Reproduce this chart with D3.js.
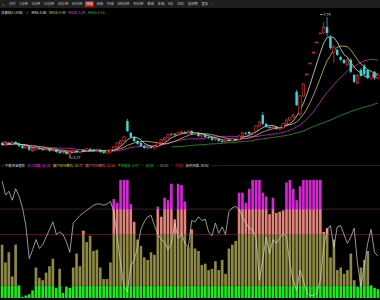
<!DOCTYPE html>
<html><head><meta charset="utf-8">
<script src="https://cdn.jsdelivr.net/npm/d3@7"></script>
<style>
body{margin:0;background:#000;overflow:hidden;}
svg{display:block;font-family:"Noto Sans CJK SC","Noto Sans",sans-serif;}
</style></head><body>
<div id="content"></div>
<script>
// ---- price data (daily candles) ----
const opens = [3.72,3.66,3.72,3.69,3.75,3.69,3.62,3.56,3.59,3.47,
  3.50,3.56,3.53,3.50,3.53,3.47,3.50,3.43,3.40,3.43,
  3.37,3.43,3.47,3.43,3.50,3.47,3.53,3.50,3.47,3.50,
  3.43,3.40,3.43,3.50,3.59,3.69,3.78,4.42,4.04,3.91,
  3.78,3.72,3.62,3.56,3.59,3.56,3.62,3.72,3.82,3.88,
  3.98,4.01,3.98,4.04,4.07,4.04,4.10,4.01,4.04,3.94,
  3.98,3.91,3.88,3.82,3.85,3.78,3.75,3.82,3.78,3.85,
  3.82,3.94,4.04,4.07,4.01,4.10,4.26,4.61,4.33,4.23,
  4.20,4.23,4.17,4.20,4.33,4.45,4.55,5.35,4.65,5.22,
  5.92,6.27,6.62,6.94,7.23,7.23,7.42,7.10,6.62,6.69,
  6.46,6.37,6.21,6.37,5.89,5.63,6.05,6.18,6.05,5.79,5.99,5.79];
const highs = [3.75,3.78,3.75,3.78,3.78,3.72,3.66,3.66,3.62,3.56,
  3.59,3.59,3.56,3.56,3.56,3.53,3.53,3.47,3.47,3.47,
  3.47,3.50,3.50,3.53,3.53,3.56,3.56,3.53,3.53,3.53,
  3.47,3.50,3.53,3.62,3.75,3.82,3.94,4.49,4.07,3.94,
  3.82,3.75,3.66,3.62,3.62,3.66,3.75,3.85,3.91,4.01,
  4.04,4.04,4.07,4.10,4.10,4.13,4.13,4.07,4.07,4.01,
  4.01,3.94,3.91,3.88,3.88,3.82,3.85,3.85,3.88,3.88,
  3.98,4.07,4.07,4.10,4.07,4.29,4.42,4.71,4.36,4.26,
  4.26,4.26,4.23,4.36,4.49,4.55,4.65,5.41,5.25,5.63,
  5.92,6.27,6.62,6.94,7.23,7.58,7.74,7.17,6.85,6.72,
  6.50,6.40,6.43,6.43,5.92,5.92,6.11,6.24,6.08,6.02,6.02,5.95];
const lows = [3.62,3.66,3.66,3.66,3.66,3.59,3.53,3.53,3.47,3.43,
  3.47,3.50,3.47,3.47,3.43,3.43,3.40,3.37,3.37,3.34,
  3.27,3.40,3.40,3.40,3.43,3.43,3.47,3.43,3.43,3.40,
  3.37,3.37,3.40,3.47,3.56,3.66,3.75,4.07,3.88,3.75,
  3.66,3.59,3.53,3.53,3.53,3.53,3.59,3.69,3.78,3.85,
  3.94,3.94,3.94,4.01,4.01,4.01,3.98,3.98,3.91,3.91,
  3.88,3.85,3.78,3.78,3.75,3.72,3.72,3.75,3.75,3.78,
  3.78,3.91,3.98,3.98,3.98,4.07,4.23,4.29,4.20,4.17,
  4.17,4.13,4.13,4.17,4.29,4.42,4.52,4.90,4.58,5.19,
  5.92,6.27,6.62,6.94,7.23,7.23,7.13,6.69,6.27,6.50,
  6.34,6.24,6.18,5.95,5.63,5.60,5.83,5.89,5.76,5.76,5.73,5.76];
const closes = [3.66,3.72,3.69,3.75,3.69,3.62,3.56,3.62,3.50,3.53,
  3.56,3.53,3.50,3.53,3.47,3.50,3.43,3.40,3.43,3.37,
  3.43,3.47,3.43,3.50,3.47,3.53,3.50,3.47,3.50,3.43,
  3.40,3.47,3.50,3.59,3.72,3.78,3.91,4.10,3.91,3.78,
  3.69,3.62,3.56,3.59,3.56,3.62,3.72,3.82,3.88,3.98,
  4.01,3.98,4.04,4.07,4.04,4.10,4.01,4.04,3.94,3.98,
  3.91,3.88,3.82,3.85,3.78,3.75,3.82,3.78,3.85,3.82,
  3.94,4.04,4.01,4.01,4.04,4.26,4.39,4.33,4.23,4.20,
  4.23,4.17,4.20,4.33,4.45,4.52,4.61,4.93,5.22,5.60,
  5.92,6.27,6.62,6.94,7.23,7.42,7.23,6.75,6.78,6.53,
  6.37,6.27,6.37,5.99,5.67,5.86,5.86,5.92,5.79,5.99,5.79,5.89];

// moving averages as shown on the chart
const ma5 = [3.66,3.69,3.69,3.70,3.70,3.69,3.66,3.65,3.60,3.57,
  3.56,3.55,3.52,3.53,3.52,3.50,3.48,3.46,3.45,3.43,
  3.41,3.42,3.43,3.44,3.46,3.48,3.48,3.49,3.49,3.48,
  3.46,3.45,3.46,3.48,3.54,3.61,3.70,3.82,3.89,3.90,
  3.88,3.82,3.71,3.65,3.61,3.59,3.61,3.66,3.72,3.80,
  3.88,3.93,3.98,4.01,4.03,4.05,4.05,4.05,4.03,4.01,
  3.98,3.95,3.91,3.89,3.85,3.82,3.80,3.80,3.80,3.80,
  3.84,3.89,3.93,3.96,4.01,4.07,4.14,4.21,4.25,4.28,
  4.28,4.23,4.21,4.22,4.28,4.33,4.42,4.57,4.75,4.98,
  5.26,5.59,5.93,6.27,6.60,6.90,7.09,7.11,7.08,6.94,
  6.73,6.54,6.46,6.30,6.13,6.03,5.95,5.86,5.82,5.88,5.87,5.88];
const ma10 = [3.66,3.66,3.67,3.67,3.69,3.67,3.66,3.66,3.64,3.63,
  3.62,3.60,3.59,3.56,3.54,3.53,3.52,3.49,3.49,3.47,
  3.46,3.45,3.45,3.44,3.44,3.45,3.45,3.46,3.47,3.47,
  3.47,3.47,3.47,3.48,3.51,3.54,3.58,3.64,3.68,3.72,
  3.75,3.76,3.77,3.77,3.75,3.74,3.72,3.69,3.69,3.70,
  3.74,3.77,3.82,3.87,3.91,3.96,3.99,4.01,4.02,4.02,
  4.01,4.00,3.98,3.96,3.93,3.90,3.88,3.85,3.84,3.83,
  3.83,3.85,3.86,3.88,3.91,3.96,4.01,4.07,4.11,4.14,
  4.17,4.19,4.21,4.24,4.28,4.30,4.33,4.39,4.49,4.63,
  4.80,5.01,5.25,5.51,5.79,6.08,6.34,6.52,6.68,6.77,
  6.81,6.81,6.79,6.69,6.54,6.38,6.24,6.16,6.06,6.01,5.95,5.91];
const ma20 = [3.75,3.74,3.72,3.70,3.69,3.67,3.66,3.65,3.64,3.62,
  3.61,3.60,3.59,3.58,3.57,3.57,3.56,3.55,3.55,3.55,
  3.54,3.53,3.52,3.50,3.49,3.49,3.48,3.47,3.47,3.47,
  3.46,3.46,3.46,3.46,3.47,3.49,3.51,3.55,3.57,3.59,
  3.60,3.61,3.62,3.62,3.63,3.63,3.65,3.66,3.68,3.71,
  3.74,3.77,3.79,3.82,3.83,3.85,3.85,3.85,3.85,3.86,
  3.87,3.89,3.90,3.91,3.92,3.93,3.93,3.93,3.93,3.92,
  3.92,3.92,3.92,3.92,3.92,3.92,3.94,3.96,3.97,3.99,
  4.00,4.01,4.03,4.06,4.09,4.13,4.17,4.23,4.29,4.38,
  4.48,4.59,4.72,4.87,5.03,5.19,5.33,5.45,5.58,5.70,
  5.80,5.91,6.02,6.10,6.16,6.23,6.29,6.34,6.37,6.39,6.38,6.36];
const ma60 = [null,null,null,null,null,null,null,null,null,null,
  null,null,null,null,null,null,null,null,null,null,
  null,null,null,null,null,null,null,null,null,null,
  null,null,null,null,null,null,null,null,null,null,
  null,null,null,null,null,null,null,null,null,null,
  3.59,3.60,3.60,3.61,3.62,3.63,3.64,3.65,3.66,3.66,
  3.67,3.68,3.69,3.69,3.70,3.71,3.72,3.72,3.73,3.74,
  3.75,3.76,3.77,3.78,3.80,3.82,3.83,3.85,3.86,3.88,
  3.89,3.91,3.93,3.94,3.96,3.98,4.01,4.04,4.07,4.10,
  4.15,4.20,4.24,4.28,4.33,4.36,4.41,4.45,4.50,4.55,
  4.60,4.64,4.68,4.72,4.76,4.79,4.83,4.86,4.89,4.92,4.96,4.99];

// ---- lower indicator ----
const holdBars = [42,28,36,17,42,10,1,2,3,6,
  24,16,14,20,25,31,8,23,4,9,
  8,24,35,25,53,44,49,37,38,24,
  15,15,28,78,75,93,93,93,74,60,
  46,41,32,30,36,34,72,64,79,77,
  90,62,90,89,76,40,54,39,37,26,
  27,22,23,29,22,30,19,39,42,45,
  83,83,75,86,93,93,93,83,80,66,
  79,67,68,69,91,93,86,77,88,93,
  93,93,93,93,93,52,55,32,46,22,
  24,19,22,35,14,9,24,30,37,10,8,7];
const hotLine = [92,81,84,77,86,80,71,57,31,38,
  46,39,42,48,54,60,50,52,50,44,
  36,59,62,65,67,69,71,73,74,74,
  73,74,76,68,48,27,9,5,25,30,
  40,54,60,64,65,57,50,46,44,38,
  43,59,47,51,43,40,61,60,64,61,
  62,52,49,59,51,56,50,68,71,72,
  70,64,59,55,54,48,14,30,48,35,
  46,43,47,51,48,27,14,6,22,14,
  4,2,2,4,14,40,54,57,40,56,
  57,50,43,48,55,27,9,25,43,54,36,33];
const levels = [10, 50, 70];

// ---- texts ----
const toolbarLabels = ["分时","1分钟","5分钟","15分钟","30分钟","60分钟","日线","周线","月线","180分钟","45分钟","季线","年线","5日","10日","多周期","更多"];
const activeLabel = "日线";
const titleItems = [
  {t:"深赛格A (日线)", c:"#d8d8d8"}, {t:"◎", c:"#d8d8d8"},
  {t:"MA5: 5.60", c:"#e8e8e8"}, {t:"MA10: 5.48", c:"#e0d040"},
  {t:"MA20: 5.24", c:"#e040e0"}, {t:"MA60: 5.16", c:"#30c030"}];
const legendItems = [
  {t:"◎ 牛散资金跟踪", c:"#d8d8d8"}, {t:"主力控盘: 82.38", c:"#e040e0"},
  {t:"散户80%筹码: 18.77", c:"#d8c840"}, {t:"散户70%筹码: 13.55", c:"#f07070"},
  {t:"平均成本: 5.47", c:"#30d030"}, {t:"· 10.00", c:"#30d030"},
  {t:"· 50.00", c:"#a0a0a0"}, {t:"· 70.00", c:"#e03030"},
  {t:"游资控盘: 59.92", c:"#d8d8d8"}];
const highLabel = "7.74", lowLabel = "3.27";

const W = 380, H = 300;
const svg = d3.select("#content").append("svg").attr("width", W).attr("height", H);
svg.append("rect").attr("width", W).attr("height", H).attr("fill", "#000");

const idx = d3.range(closes.length);
const x = d3.scaleBand().domain(idx).range([0, W]).padding(0.28);
const xc = i => x(i) + x.bandwidth() / 2;

// ---- toolbar ----
svg.append("rect").attr("width", W).attr("height", 8).attr("fill", "#1f1f1f");
svg.append("text").attr("x", 1.5).attr("y", 5.6).attr("font-size", 3.4).attr("fill", "#bbb").text("⊥");
let tx = 9;
const tb = svg.append("g");
toolbarLabels.forEach(lb => {
  const t = tb.append("text").attr("x", tx).attr("y", 5.4).attr("font-size", 3.3)
    .attr("fill", "#c8c8c8").text(lb);
  const w = t.node().getComputedTextLength();
  if (lb === activeLabel) {
    tb.insert("rect", "text").attr("x", tx - 1.2).attr("y", 1.2).attr("width", w + 2.4).attr("height", 5.6).attr("fill", "#c42424");
    t.attr("fill", "#fff");
  }
  tx += w + 3.8;
});
tb.append("text").attr("x", tx).attr("y", 5.4).attr("font-size", 3.3).attr("fill", "#888").text("|");

// ---- title row ----
let ttx = 1;
titleItems.forEach(it => {
  const t = svg.append("text").attr("x", ttx).attr("y", 13.6).attr("font-size", 3.4).attr("fill", it.c).text(it.t);
  ttx += t.node().getComputedTextLength() + 2.5;
});

// ---- main price panel ----
const y = d3.scaleLinear().domain([3.27, 7.74]).range([157, 17]);
const main = svg.append("g");

const maDefs = [[ma60, "#2f9a2f"], [ma20, "#c832c8"], [ma10, "#d2c060"], [ma5, "#e8e0e0"]];
maDefs.forEach(([arr, col]) => {
  main.append("path").datum(arr)
    .attr("fill", "none").attr("stroke", col).attr("stroke-width", 0.8)
    .attr("d", d3.line().defined(d => d != null).x((d, i) => xc(i)).y(d => y(d)));
});

const UP = "#ff3c3c", DOWN = "#38d8d8";
const cg = main.selectAll(".candle").data(idx).enter().append("g").attr("class", "candle");
cg.append("line")
  .attr("x1", i => xc(i)).attr("x2", i => xc(i))
  .attr("y1", i => y(highs[i])).attr("y2", i => y(lows[i]))
  .attr("stroke", i => closes[i] >= opens[i] ? UP : DOWN).attr("stroke-width", 0.7);
cg.append("rect")
  .attr("x", i => x(i)).attr("width", x.bandwidth())
  .attr("y", i => y(Math.max(opens[i], closes[i])))
  .attr("height", i => Math.max(0.9, Math.abs(y(opens[i]) - y(closes[i]))))
  .attr("fill", i => closes[i] >= opens[i] ? "#000" : DOWN)
  .attr("stroke", i => closes[i] >= opens[i] ? UP : "none")
  .attr("stroke-width", 0.6);

// high / low markers
const hi = d3.maxIndex(highs), lo = d3.minIndex(lows);
main.append("line").attr("x1", xc(hi) - 7).attr("x2", xc(hi) - 4).attr("y1", y(highs[hi]) - 2.5).attr("y2", y(highs[hi]) - 2.5).attr("stroke", "#ddd").attr("stroke-width", 0.6);
main.append("text").attr("x", xc(hi) - 3.5).attr("y", y(highs[hi]) - 1).attr("font-size", 3.6).attr("fill", "#ddd").text(highLabel);
main.append("line").attr("x1", xc(lo)).attr("x2", xc(lo)).attr("y1", y(lows[lo]) - 2).attr("y2", y(lows[lo]) + 1).attr("stroke", "#ddd").attr("stroke-width", 0.6);
main.append("line").attr("x1", xc(lo)).attr("x2", xc(lo) + 3).attr("y1", y(lows[lo]) + 1).attr("y2", y(lows[lo]) + 1).attr("stroke", "#ddd").attr("stroke-width", 0.6);
main.append("text").attr("x", xc(lo) + 3.5).attr("y", y(lows[lo]) + 2.3).attr("font-size", 3.6).attr("fill", "#ddd").text(lowLabel);

// ---- separator + lower legend ----
svg.append("line").attr("x1", 0).attr("x2", W).attr("y1", 165.5).attr("y2", 165.5).attr("stroke", "#4a1010").attr("stroke-width", 1);
const lg = svg.append("g");
let lx = 1;
legendItems.forEach(it => {
  const t = lg.append("text").attr("x", lx).attr("y", 167.3).attr("font-size", 3.3).attr("fill", it.c).text(it.t);
  const w = t.node().getComputedTextLength();
  lg.insert("rect", "text").attr("x", lx - 0.5).attr("y", 163.5).attr("width", w + 3).attr("height", 5).attr("fill", "#000");
  lx += w + 2.5;
});

// ---- lower indicator panel ----
const y2 = d3.scaleLinear().domain([0, 100]).range([298, 171]);
const low = svg.append("g");
low.selectAll(".lvl").data(levels.slice(1)).enter().append("line")
  .attr("x1", 0).attr("x2", W).attr("y1", d => y2(d)).attr("y2", d => y2(d))
  .attr("stroke", "#5a2020").attr("stroke-width", 0.8);

const xb = d3.scaleBand().domain(idx).range([0, W]).padding(0.22);
const segs = [];
holdBars.forEach((v, i) => {
  segs.push({i, a: 0, b: Math.min(v, levels[0]), c: "#1ee81e"});
  if (v > levels[0]) segs.push({i, a: levels[0], b: Math.min(v, levels[1]), c: "#8e8a44"});
  if (v > levels[1]) segs.push({i, a: levels[1], b: Math.min(v, levels[2]), c: "#e2847a"});
  if (v > levels[2]) segs.push({i, a: levels[2], b: v, c: "#d426d4"});
});
low.selectAll(".seg").data(segs).enter().append("rect")
  .attr("x", d => xb(d.i)).attr("width", xb.bandwidth())
  .attr("y", d => y2(d.b)).attr("height", d => y2(d.a) - y2(d.b))
  .attr("fill", d => d.c);

low.append("path").datum(hotLine)
  .attr("fill", "none").attr("stroke", "#d4d4d4").attr("stroke-width", 0.7)
  .attr("d", d3.line().x((d, i) => xc(i)).y(d => y2(d)));
</script>
</body></html>
